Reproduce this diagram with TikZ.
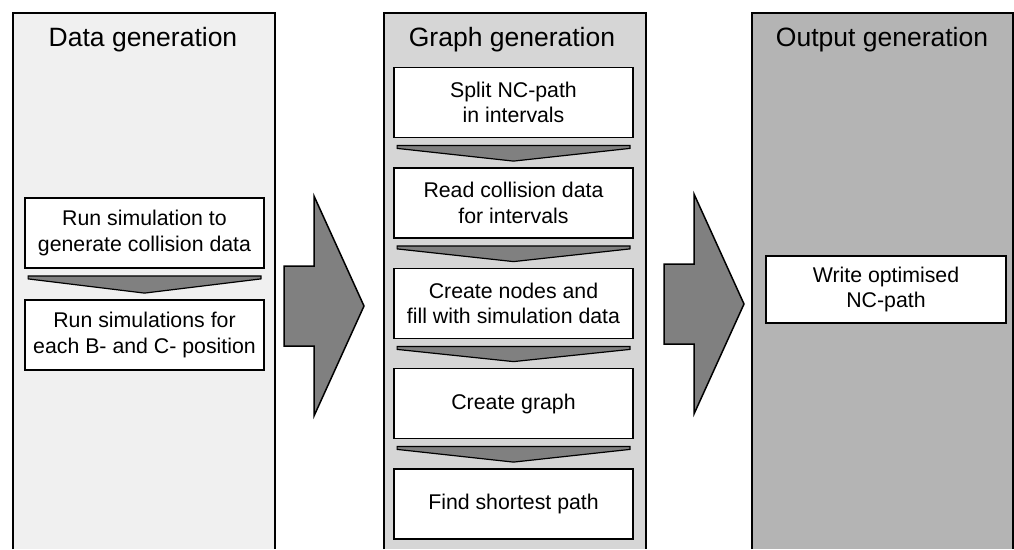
\documentclass[tikz,border=0pt]{standalone}
\usepackage{fontspec}
\setmainfont{Liberation Sans}
\usetikzlibrary{calc}
\definecolor{pA}{RGB}{240,240,240}
\definecolor{pB}{RGB}{214,214,214}
\definecolor{pC}{RGB}{180,180,180}
\definecolor{arr}{RGB}{128,128,128}
\tikzset{
  panelline/.style={draw=black, line width=1.8pt},
  paneltitle/.style={anchor=base, inner sep=0pt, font=\fontsize{26.5}{30}\selectfont},
  stepbox/.style={draw=black, fill=white, line width=1.8pt, minimum width=239pt, minimum height=70pt,
    align=center, inner sep=2pt, font=\fontsize{21.3}{25.5}\selectfont},
  chev/.style={draw=black, fill=arr, line width=1.2pt, line join=miter},
  bigarrow/.style={draw=black, fill=arr, line width=1.5pt, line join=miter},
}
\begin{document}
\begin{tikzpicture}[x=1pt,y=-1pt]
\useasboundingbox (0,0) rectangle (1014,549);
% panels
\fill[pA] (13,13) rectangle (275,549);
\draw[panelline] (13,549) -- (13,13) -- (275,13) -- (275,549);
\fill[pB] (384,13) rectangle (646,549);
\draw[panelline] (384,549) -- (384,13) -- (646,13) -- (646,549);
\fill[pC] (752,13) rectangle (1013,549);
\draw[panelline] (752,549) -- (752,13) -- (1013,13) -- (1013,549);
\node[paneltitle] (t1) at (143,46) {Data generation};
\node[paneltitle] (t2) at (512,46) {Graph generation};
\node[paneltitle] (t3) at (882,46) {Output generation};
% boxes
\node[stepbox] (d1) at (144.5,233) {Run simulation to\\generate collision data};
\node[stepbox] (d2) at (144.5,335) {Run simulations for\\each B- and C- position};
\node[stepbox] (g1) at (513.5,102.5) {Split NC-path\\in intervals};
\node[stepbox] (g2) at (513.5,203) {Read collision data\\for intervals};
\node[stepbox] (g3) at (513.5,303.5) {Create nodes and\\fill with simulation data};
\node[stepbox] (g4) at (513.5,403.5) {Create graph};
\node[stepbox] (g5) at (513.5,504) {Find shortest path};
\node[stepbox, minimum width=240pt, minimum height=67pt] (o1) at (886,289.5) {Write optimised\\NC-path};
% small chevron connectors
\foreach \a/\b in {d1/d2,g1/g2,g2/g3,g3/g4,g4/g5}{
  \draw[chev] ($(\a.south west)+(4,7)$) -- ($(\a.south east)+(-4,7)$) -- ($(\a.south east)+(-4,10)$)
    -- ($(\b.north)+(0,-6)$) -- ($(\a.south west)+(4,10)$) -- cycle;
}
% big arrows between panels
\coordinate (a1) at (284,306);
\coordinate (a2) at (664,304);
\foreach \c in {a1,a2}{
  \draw[bigarrow] ($(\c)+(0,-40)$) -- ($(\c)+(30,-40)$) -- ($(\c)+(30,-110)$) -- ($(\c)+(80,0)$)
    -- ($(\c)+(30,110)$) -- ($(\c)+(30,40)$) -- ($(\c)+(0,40)$) -- cycle;
}
\end{tikzpicture}
\end{document}
